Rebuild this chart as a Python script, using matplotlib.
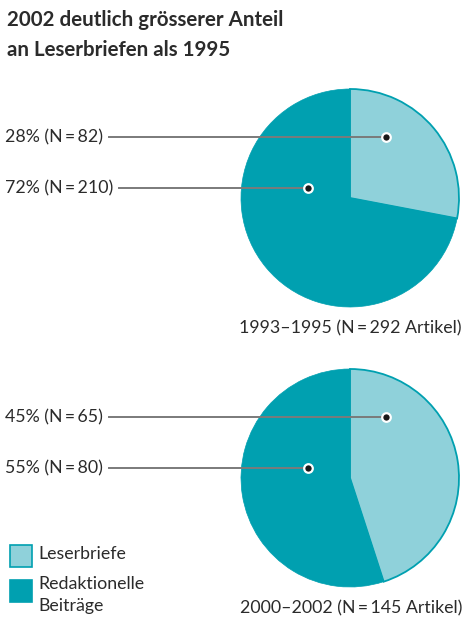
import matplotlib.pyplot as plt

# Daten
periods = ["1993\u20131995", "2000\u20132002"]
totals = [292, 145]
shares_leser = [28, 45]
shares_redakt = [72, 55]
n_leser = [82, 65]
n_redakt = [210, 80]
legend_labels = ["Leserbriefe", "Redaktionelle\nBeiträge"]

teal = "#00a0b0"
light = "#8fd1da"
txt = "#2b2b2b"

plt.rcParams['font.family'] = ['Lato', 'DejaVu Sans']

fig = plt.figure(figsize=(4.74, 6.2), dpi=100)
ax = fig.add_axes([0, 0, 1, 1])


def set_limits():
    ax.set_xlim(0, 474)
    ax.set_ylim(620, 0)
    ax.set_aspect('equal')


# Titel
fig.text(7, 620 - 26, "2002 deutlich grösserer Anteil", transform=None,
         fontsize=14.8, fontweight='bold', color=txt, va='baseline')
fig.text(7, 620 - 56, "an Leserbriefen als 1995", transform=None,
         fontsize=14.8, fontweight='bold', color=txt, va='baseline')

centers_y = [198, 478]
cx = 350
radius = 109
fs = 12.8

for i in range(2):
    cy = centers_y[i]
    # y-Achse ist umgekehrt: startangle -90 und counterclock ergibt oben/im Uhrzeigersinn
    wedges, _ = ax.pie([shares_leser[i], shares_redakt[i]], colors=[light, teal],
                       startangle=-90, counterclock=True, radius=radius,
                       center=(cx, cy), frame=True)
    wedges[0].set_edgecolor(teal)
    wedges[0].set_linewidth(1.3)
    wedges[1].set_edgecolor(teal)
    wedges[1].set_linewidth(0.5)
    set_limits()

    # Beschriftungen mit Linien
    labels = [f"{shares_leser[i]}% (N\u2009=\u2009{n_leser[i]})",
              f"{shares_redakt[i]}% (N\u2009=\u2009{n_redakt[i]})"]
    dots = [(cx + 36, cy - 61), (cx - 42, cy - 10)]
    for lab, (dx, dy) in zip(labels, dots):
        t = ax.text(5, dy, lab, fontsize=fs, color=txt, va='center', ha='left')
        fig.canvas.draw()
        bb = t.get_window_extent().transformed(ax.transData.inverted())
        x0 = max(bb.x0, bb.x1) + 6
        ax.plot([x0, dx], [dy, dy], color="#7a7a7a", lw=1.4, zorder=3)
        ax.scatter([dx], [dy], s=38, color="#1a1a1a", edgecolors='white',
                   linewidths=1.6, zorder=4)

    ax.text(462, cy + 130, f"{periods[i]} (N\u2009=\u2009{totals[i]} Artikel)",
            fontsize=fs, color=txt, ha='right', va='center')

# Legende
ax.add_patch(plt.Rectangle((10, 545), 22, 22, facecolor=light, edgecolor=teal, lw=1.2))
ax.add_patch(plt.Rectangle((10, 580), 22, 22, facecolor=teal, edgecolor=teal, lw=1.2))
ax.text(38, 554, legend_labels[0], fontsize=fs, color=txt, va='center')
ax.text(38, 595, legend_labels[1], fontsize=fs, color=txt, va='center',
        linespacing=1.45)

set_limits()
ax.axis('off')

fig.savefig("out.png", dpi=100)
